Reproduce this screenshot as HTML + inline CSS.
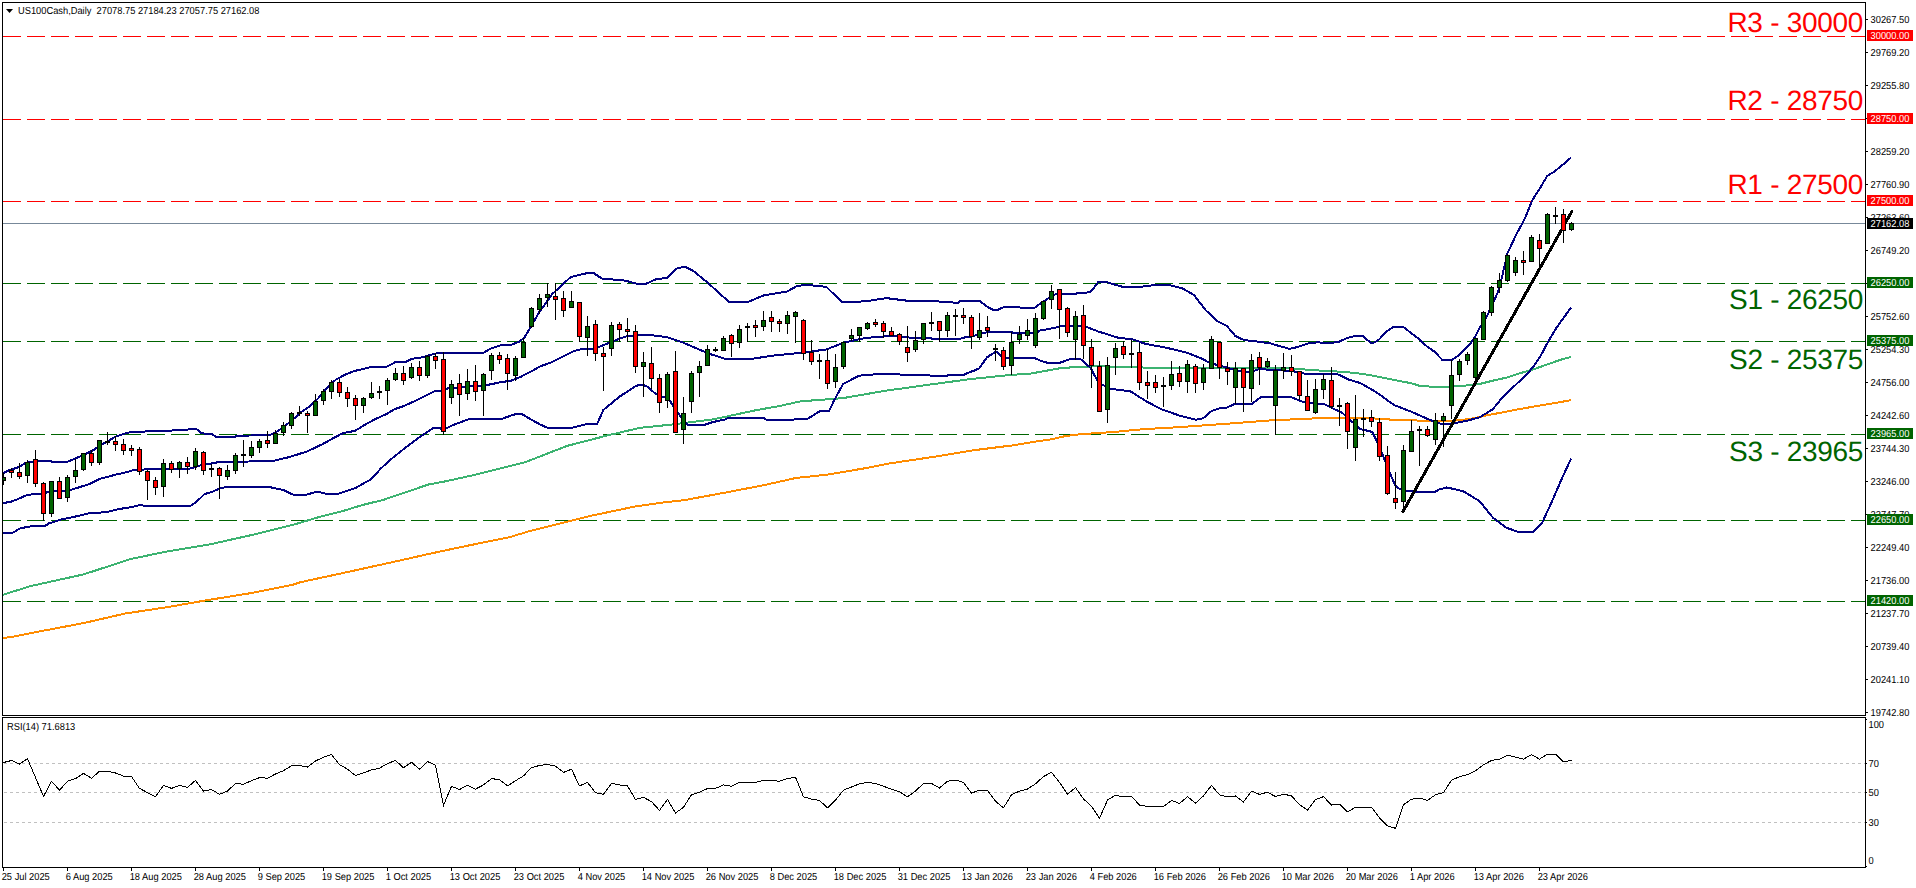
<!DOCTYPE html><html><head><meta charset="utf-8"><style>html,body{margin:0;padding:0;background:#fff;}svg{display:block}text{font-family:"Liberation Sans", sans-serif;text-rendering:geometricPrecision;}</style></head><body>
<svg width="1916" height="888" viewBox="0 0 1916 888">
<rect x="0" y="0" width="1916" height="888" fill="#fff"/>
<defs><clipPath id="cm"><rect x="3" y="3" width="1862" height="712"/></clipPath><clipPath id="cr"><rect x="3" y="718" width="1862" height="149"/></clipPath></defs>
<g clip-path="url(#cm)">
<line x1="3" y1="36.5" x2="1865" y2="36.5" stroke="#FF0000" stroke-width="1" stroke-dasharray="18 6" shape-rendering="crispEdges"/>
<line x1="3" y1="119.5" x2="1865" y2="119.5" stroke="#FF0000" stroke-width="1" stroke-dasharray="18 6" shape-rendering="crispEdges"/>
<line x1="3" y1="201.5" x2="1865" y2="201.5" stroke="#FF0000" stroke-width="1" stroke-dasharray="18 6" shape-rendering="crispEdges"/>
<line x1="3" y1="283.5" x2="1865" y2="283.5" stroke="#006400" stroke-width="1" stroke-dasharray="18 6" shape-rendering="crispEdges"/>
<line x1="3" y1="341.5" x2="1865" y2="341.5" stroke="#006400" stroke-width="1" stroke-dasharray="18 6" shape-rendering="crispEdges"/>
<line x1="3" y1="434.5" x2="1865" y2="434.5" stroke="#006400" stroke-width="1" stroke-dasharray="18 6" shape-rendering="crispEdges"/>
<line x1="3" y1="520.5" x2="1865" y2="520.5" stroke="#006400" stroke-width="1" stroke-dasharray="18 6" shape-rendering="crispEdges"/>
<line x1="3" y1="601.5" x2="1865" y2="601.5" stroke="#006400" stroke-width="1" stroke-dasharray="18 6" shape-rendering="crispEdges"/>
<line x1="3" y1="223.5" x2="1865" y2="223.5" stroke="#778899" stroke-width="1" shape-rendering="crispEdges"/>
<polyline points="3.1,637.7 10.4,637.3 41.8,631.0 83.5,623.1 125.3,613.5 167.0,607.2 208.8,599.9 250.5,593.2 292.3,584.9 300.0,582.3 341.8,573.3 383.5,564.1 400.0,560.5 425.3,554.7 467.0,545.8 508.8,537.4 529.6,531.1 550.5,525.9 571.4,520.7 592.3,515.5 634.0,506.7 660.0,502.9 685.0,500.0 722.6,493.1 764.4,485.1 795.7,478.0 827.0,474.7 868.8,467.6 889.6,463.4 931.4,457.2 973.2,450.3 1014.9,445.1 1035.8,441.5 1050.0,439.6 1065.7,436.0 1081.3,434.1 1112.6,432.1 1143.9,429.1 1175.3,427.4 1206.6,425.2 1237.9,422.9 1269.2,420.5 1300.5,419.0 1331.8,417.7 1345.0,417.6 1370.0,418.2 1394.0,419.8 1420.5,420.6 1440.0,420.9 1455.0,420.6 1470.0,419.0 1486.3,415.5 1519.2,409.1 1571.2,400.2" fill="none" stroke="#FF8C00" stroke-width="2" stroke-linejoin="round" shape-rendering="crispEdges" />
<polyline points="3.1,594.7 31.3,585.9 83.5,574.4 131.5,558.8 167.0,551.5 208.8,544.6 250.5,535.3 292.3,524.9 300.0,522.8 320.9,516.5 341.8,511.3 362.6,505.0 383.5,499.8 402.0,493.6 428.0,484.6 446.1,481.2 473.1,475.2 525.3,462.2 567.0,445.9 608.8,435.1 640.1,427.8 671.4,424.6 713.2,419.4 754.9,410.4 780.0,405.9 800.9,401.3 842.6,398.2 884.4,390.9 926.1,385.1 967.9,379.4 1009.6,375.0 1030.5,373.6 1061.8,367.9 1093.2,366.3 1125.0,366.8 1150.0,367.8 1155.8,367.9 1180.0,367.9 1220.0,368.0 1289.0,368.3 1328.0,371.2 1340.0,371.6 1355.8,373.0 1371.5,375.4 1391.2,379.3 1412.0,383.4 1420.5,386.1 1439.0,387.0 1453.4,386.3 1466.0,385.5 1480.0,383.9 1493.5,380.5 1507.0,377.5 1520.5,373.1 1534.1,369.1 1547.6,364.3 1561.1,359.6 1571.2,356.9" fill="none" stroke="#3CB371" stroke-width="2" stroke-linejoin="round" shape-rendering="crispEdges" />
<polyline points="3.0,473.2 9.0,470.2 16.2,468.0 20.7,466.2 25.2,463.0 29.7,461.7 50.5,461.0 52.3,462.1 66.7,462.1 71.2,460.3 78.4,457.2 85.6,454.0 93.7,450.0 100.0,445.3 107.2,441.7 115.3,436.7 123.4,434.0 131.5,431.8 163.0,431.1 191.0,429.3 197.3,429.5 201.8,433.4 211.7,433.8 216.2,436.9 235.0,436.9 237.0,435.6 251.5,435.5 269.0,435.3 276.4,432.0 283.7,427.0 292.5,420.0 300.0,413.0 309.0,406.7 318.0,398.6 327.0,387.7 336.0,379.6 345.0,374.7 354.0,371.1 363.0,369.0 372.0,366.8 386.5,366.8 395.5,362.1 406.3,361.6 411.7,358.9 421.9,357.4 434.0,354.0 436.8,353.2 482.6,353.2 490.7,348.7 500.8,345.2 510.9,345.0 519.0,341.7 524.1,338.1 539.1,312.4 552.2,294.1 570.5,277.2 588.7,272.7 594.0,273.3 601.8,278.5 625.3,280.6 638.3,284.2 646.1,283.7 656.6,279.0 667.0,278.0 677.5,268.0 685.3,267.0 693.1,270.7 708.8,283.7 729.6,302.5 747.9,302.0 763.6,295.4 787.0,291.5 797.5,285.8 807.9,285.0 826.2,286.8 841.9,302.0 865.3,301.4 886.2,298.1 907.1,300.7 931.0,301.0 947.0,302.0 958.3,303.0 960.8,300.5 979.3,300.5 986.8,306.5 993.0,309.7 998.0,309.7 1004.5,306.8 1019.1,306.8 1020.3,307.6 1034.9,307.6 1039.4,304.2 1047.3,299.1 1054.1,294.6 1062.0,293.5 1076.6,293.5 1077.7,292.6 1086.7,292.6 1091.2,291.3 1098.0,282.3 1106.0,282.0 1123.2,287.0 1138.5,287.0 1155.7,285.0 1171.0,285.5 1182.5,288.5 1194.0,295.0 1205.5,310.0 1216.8,320.8 1226.9,326.0 1235.3,336.0 1243.8,340.0 1257.3,341.5 1270.8,343.5 1277.6,345.5 1289.4,348.8 1297.8,347.0 1308.0,343.5 1318.1,342.3 1328.2,343.3 1338.4,342.0 1347.9,337.7 1356.5,335.6 1362.9,335.6 1367.6,340.3 1371.5,343.1 1374.7,342.3 1378.6,339.9 1387.3,330.9 1393.6,326.7 1403.0,326.7 1410.9,332.9 1418.8,338.8 1426.7,346.2 1434.6,351.8 1442.4,360.0 1451.9,360.0 1458.2,355.7 1462.9,351.0 1470.8,343.1 1475.5,336.0 1480.0,327.3 1487.3,315.4 1499.1,289.4 1507.4,253.5 1516.2,234.6 1524.3,219.7 1532.4,200.1 1540.5,187.3 1547.3,175.8 1554.0,171.8 1560.8,166.4 1571.0,157.6" fill="none" stroke="#000080" stroke-width="2" stroke-linejoin="round" shape-rendering="crispEdges" />
<polyline points="3.0,503.1 10.8,501.8 18.0,499.1 27.0,495.0 37.8,493.6 45.0,493.6 47.7,491.8 64.9,491.0 70.3,490.0 79.3,487.3 90.1,483.7 100.0,478.8 107.0,477.0 116.0,474.6 127.6,472.0 134.3,469.8 160.0,469.0 190.6,468.5 200.0,465.6 204.6,464.6 219.3,462.0 248.6,461.5 275.0,460.5 289.6,457.0 307.0,451.5 321.8,444.5 330.0,440.0 341.3,433.9 346.9,432.2 354.8,431.0 363.8,425.4 375.0,419.2 386.3,414.1 394.8,409.1 403.2,406.3 414.5,401.2 425.7,395.6 434.0,391.5 443.5,391.2 448.1,388.3 480.5,385.7 488.6,384.7 500.8,382.2 510.9,380.7 521.1,376.6 531.2,371.5 540.0,366.5 552.2,362.0 573.0,351.6 579.0,349.6 592.5,348.7 599.7,346.7 608.7,343.0 616.8,339.7 625.9,336.5 633.0,335.6 650.0,335.0 667.0,337.2 682.7,342.4 708.8,353.6 727.0,359.4 747.9,359.4 774.0,355.5 800.1,352.9 826.2,349.5 844.5,342.4 865.3,338.0 891.4,335.9 910.0,337.6 931.0,338.0 932.3,339.0 959.5,339.0 964.5,337.5 972.0,336.5 984.3,332.8 989.3,331.8 1011.5,331.8 1012.8,333.0 1036.3,333.0 1040.0,330.5 1048.7,329.0 1057.4,327.2 1060.0,326.3 1084.9,326.3 1098.3,331.5 1117.4,337.5 1132.7,339.5 1146.1,344.0 1165.3,347.5 1186.3,352.5 1201.6,358.5 1210.0,363.1 1226.9,367.5 1240.4,371.5 1250.5,372.0 1259.0,369.2 1277.6,370.0 1294.5,371.5 1304.6,373.7 1338.4,374.5 1348.5,379.6 1358.6,382.5 1361.6,383.8 1376.0,392.0 1394.0,405.0 1412.0,412.0 1430.0,420.0 1441.0,423.8 1451.7,423.8 1466.0,421.0 1479.7,417.3 1492.9,409.1 1500.3,400.0 1513.8,386.6 1527.3,373.8 1534.1,365.7 1540.8,355.5 1547.6,342.7 1556.0,328.4 1571.0,307.6" fill="none" stroke="#000080" stroke-width="2" stroke-linejoin="round" shape-rendering="crispEdges" />
<polyline points="3.0,533.2 12.4,533.0 19.7,528.5 27.0,527.0 36.0,525.5 45.0,526.0 49.5,523.0 54.0,522.0 59.5,519.8 68.5,518.0 81.1,515.3 90.1,513.0 100.0,512.6 108.0,511.8 119.4,509.0 131.8,507.0 139.6,505.0 146.4,506.0 163.3,506.0 191.4,505.5 194.8,503.0 200.0,498.5 204.6,494.0 212.0,492.0 220.7,488.0 228.0,487.0 270.5,487.3 283.7,490.0 292.5,494.5 307.0,494.5 314.5,492.3 318.8,492.0 324.7,493.5 339.3,493.5 355.4,488.0 371.5,479.0 380.3,469.0 390.0,460.0 403.0,449.6 420.5,436.5 434.0,427.6 439.5,428.4 444.9,429.0 453.0,425.1 467.8,419.5 475.9,419.0 501.6,419.0 512.4,415.0 519.0,413.5 521.9,414.0 528.6,418.0 540.0,424.5 547.2,427.6 572.3,427.6 587.9,423.8 597.3,423.8 603.3,410.0 619.5,396.7 635.8,385.9 642.0,384.5 647.3,386.5 654.6,393.0 662.0,396.6 667.8,397.0 673.7,407.0 681.0,417.0 688.3,425.3 703.0,425.3 713.2,422.0 725.0,419.5 729.3,417.5 763.0,417.5 765.9,419.5 779.0,420.0 807.1,419.1 819.7,411.3 829.0,411.3 834.3,400.0 843.0,384.1 859.0,375.7 876.4,374.2 898.7,374.2 903.7,375.4 920.0,375.4 947.0,375.7 948.4,375.0 963.3,375.0 968.2,372.7 974.4,370.5 979.3,368.3 986.8,357.5 994.2,352.6 996.7,351.6 1001.6,356.5 1006.6,357.8 1033.8,357.8 1040.0,360.5 1048.7,363.2 1058.6,363.2 1071.5,358.6 1081.0,359.5 1090.6,368.0 1098.3,382.5 1110.1,388.8 1130.4,391.3 1145.6,400.9 1160.8,409.0 1181.0,416.1 1196.2,419.7 1203.3,418.2 1211.4,411.1 1220.0,408.2 1226.9,407.5 1235.3,403.7 1252.2,403.7 1260.7,397.2 1291.1,397.2 1304.6,402.5 1324.9,404.4 1333.3,408.7 1341.8,412.5 1350.2,420.0 1360.3,429.0 1372.4,432.0 1379.6,447.0 1389.6,472.3 1395.2,485.2 1399.1,488.6 1401.4,489.4 1405.0,490.9 1411.5,490.9 1414.0,492.0 1435.0,492.0 1438.5,489.7 1446.8,487.4 1463.3,491.3 1479.7,501.2 1492.9,517.6 1506.0,527.5 1519.2,532.4 1532.4,532.4 1542.2,522.6 1552.1,501.2 1562.0,478.2 1571.2,458.4" fill="none" stroke="#000080" stroke-width="2" stroke-linejoin="round" shape-rendering="crispEdges" />
<line x1="1403" y1="511.5" x2="1571.8" y2="211.5" stroke="#000" stroke-width="3" stroke-linecap="round" shape-rendering="crispEdges"/>
<rect x="3" y="473" width="1" height="12" fill="#000"/>
<rect x="1" y="477" width="5" height="4" fill="#000"/>
<rect x="2" y="478" width="3" height="2" fill="#006400"/>
<rect x="11" y="468" width="1" height="10" fill="#000"/>
<rect x="9" y="470" width="5" height="3" fill="#000"/>
<rect x="10" y="471" width="3" height="1" fill="#FF0000"/>
<rect x="19" y="463" width="1" height="16" fill="#000"/>
<rect x="17" y="472" width="5" height="5" fill="#000"/>
<rect x="18" y="473" width="3" height="3" fill="#FF0000"/>
<rect x="27" y="460" width="1" height="23" fill="#000"/>
<rect x="25" y="462" width="5" height="14" fill="#000"/>
<rect x="26" y="463" width="3" height="12" fill="#006400"/>
<rect x="35" y="450" width="1" height="37" fill="#000"/>
<rect x="33" y="459" width="5" height="25" fill="#000"/>
<rect x="34" y="460" width="3" height="23" fill="#FF0000"/>
<rect x="43" y="482" width="1" height="39" fill="#000"/>
<rect x="41" y="483" width="5" height="31" fill="#000"/>
<rect x="42" y="484" width="3" height="29" fill="#FF0000"/>
<rect x="51" y="481" width="1" height="36" fill="#000"/>
<rect x="49" y="481" width="5" height="33" fill="#000"/>
<rect x="50" y="482" width="3" height="31" fill="#006400"/>
<rect x="59" y="477" width="1" height="22" fill="#000"/>
<rect x="57" y="481" width="5" height="18" fill="#000"/>
<rect x="58" y="482" width="3" height="16" fill="#FF0000"/>
<rect x="67" y="475" width="1" height="27" fill="#000"/>
<rect x="65" y="477" width="5" height="21" fill="#000"/>
<rect x="66" y="478" width="3" height="19" fill="#006400"/>
<rect x="75" y="459" width="1" height="24" fill="#000"/>
<rect x="73" y="470" width="5" height="7" fill="#000"/>
<rect x="74" y="471" width="3" height="5" fill="#006400"/>
<rect x="83" y="453" width="1" height="18" fill="#000"/>
<rect x="81" y="453" width="5" height="17" fill="#000"/>
<rect x="82" y="454" width="3" height="15" fill="#006400"/>
<rect x="91" y="450" width="1" height="16" fill="#000"/>
<rect x="89" y="453" width="5" height="10" fill="#000"/>
<rect x="90" y="454" width="3" height="8" fill="#FF0000"/>
<rect x="99" y="440" width="1" height="25" fill="#000"/>
<rect x="97" y="440" width="5" height="23" fill="#000"/>
<rect x="98" y="441" width="3" height="21" fill="#006400"/>
<rect x="107" y="432" width="1" height="13" fill="#000"/>
<rect x="105" y="441" width="5" height="2" fill="#000"/>
<rect x="115" y="436" width="1" height="15" fill="#000"/>
<rect x="113" y="441" width="5" height="4" fill="#000"/>
<rect x="114" y="442" width="3" height="2" fill="#FF0000"/>
<rect x="123" y="439" width="1" height="16" fill="#000"/>
<rect x="121" y="444" width="5" height="7" fill="#000"/>
<rect x="122" y="445" width="3" height="5" fill="#FF0000"/>
<rect x="131" y="445" width="1" height="11" fill="#000"/>
<rect x="129" y="448" width="5" height="3" fill="#000"/>
<rect x="130" y="449" width="3" height="1" fill="#FF0000"/>
<rect x="139" y="447" width="1" height="28" fill="#000"/>
<rect x="137" y="449" width="5" height="23" fill="#000"/>
<rect x="138" y="450" width="3" height="21" fill="#FF0000"/>
<rect x="147" y="470" width="1" height="30" fill="#000"/>
<rect x="145" y="471" width="5" height="10" fill="#000"/>
<rect x="146" y="472" width="3" height="8" fill="#FF0000"/>
<rect x="155" y="477" width="1" height="18" fill="#000"/>
<rect x="153" y="480" width="5" height="8" fill="#000"/>
<rect x="154" y="481" width="3" height="6" fill="#FF0000"/>
<rect x="163" y="459" width="1" height="38" fill="#000"/>
<rect x="161" y="463" width="5" height="24" fill="#000"/>
<rect x="162" y="464" width="3" height="22" fill="#006400"/>
<rect x="171" y="461" width="1" height="12" fill="#000"/>
<rect x="169" y="463" width="5" height="7" fill="#000"/>
<rect x="170" y="464" width="3" height="5" fill="#FF0000"/>
<rect x="179" y="461" width="1" height="17" fill="#000"/>
<rect x="177" y="462" width="5" height="7" fill="#000"/>
<rect x="178" y="463" width="3" height="5" fill="#006400"/>
<rect x="187" y="457" width="1" height="17" fill="#000"/>
<rect x="185" y="462" width="5" height="5" fill="#000"/>
<rect x="186" y="463" width="3" height="3" fill="#FF0000"/>
<rect x="195" y="448" width="1" height="22" fill="#000"/>
<rect x="193" y="451" width="5" height="16" fill="#000"/>
<rect x="194" y="452" width="3" height="14" fill="#006400"/>
<rect x="203" y="451" width="1" height="24" fill="#000"/>
<rect x="201" y="452" width="5" height="19" fill="#000"/>
<rect x="202" y="453" width="3" height="17" fill="#FF0000"/>
<rect x="211" y="464" width="1" height="13" fill="#000"/>
<rect x="209" y="468" width="5" height="2" fill="#000"/>
<rect x="219" y="467" width="1" height="32" fill="#000"/>
<rect x="217" y="468" width="5" height="8" fill="#000"/>
<rect x="218" y="469" width="3" height="6" fill="#FF0000"/>
<rect x="227" y="465" width="1" height="15" fill="#000"/>
<rect x="225" y="470" width="5" height="7" fill="#000"/>
<rect x="226" y="471" width="3" height="5" fill="#006400"/>
<rect x="235" y="453" width="1" height="21" fill="#000"/>
<rect x="233" y="455" width="5" height="16" fill="#000"/>
<rect x="234" y="456" width="3" height="14" fill="#006400"/>
<rect x="243" y="440" width="1" height="27" fill="#000"/>
<rect x="241" y="454" width="5" height="2" fill="#000"/>
<rect x="251" y="441" width="1" height="17" fill="#000"/>
<rect x="249" y="447" width="5" height="9" fill="#000"/>
<rect x="250" y="448" width="3" height="7" fill="#006400"/>
<rect x="259" y="439" width="1" height="14" fill="#000"/>
<rect x="257" y="441" width="5" height="7" fill="#000"/>
<rect x="258" y="442" width="3" height="5" fill="#006400"/>
<rect x="267" y="431" width="1" height="17" fill="#000"/>
<rect x="265" y="440" width="5" height="4" fill="#000"/>
<rect x="266" y="441" width="3" height="2" fill="#FF0000"/>
<rect x="275" y="430" width="1" height="14" fill="#000"/>
<rect x="273" y="433" width="5" height="11" fill="#000"/>
<rect x="274" y="434" width="3" height="9" fill="#006400"/>
<rect x="283" y="422" width="1" height="14" fill="#000"/>
<rect x="281" y="425" width="5" height="8" fill="#000"/>
<rect x="282" y="426" width="3" height="6" fill="#006400"/>
<rect x="291" y="412" width="1" height="17" fill="#000"/>
<rect x="289" y="413" width="5" height="13" fill="#000"/>
<rect x="290" y="414" width="3" height="11" fill="#006400"/>
<rect x="299" y="406" width="1" height="10" fill="#000"/>
<rect x="297" y="412" width="5" height="2" fill="#000"/>
<rect x="307" y="411" width="1" height="22" fill="#000"/>
<rect x="305" y="413" width="5" height="3" fill="#000"/>
<rect x="306" y="414" width="3" height="1" fill="#FF0000"/>
<rect x="315" y="394" width="1" height="22" fill="#000"/>
<rect x="313" y="401" width="5" height="15" fill="#000"/>
<rect x="314" y="402" width="3" height="13" fill="#006400"/>
<rect x="323" y="389" width="1" height="16" fill="#000"/>
<rect x="321" y="391" width="5" height="10" fill="#000"/>
<rect x="322" y="392" width="3" height="8" fill="#006400"/>
<rect x="331" y="380" width="1" height="19" fill="#000"/>
<rect x="329" y="382" width="5" height="10" fill="#000"/>
<rect x="330" y="383" width="3" height="8" fill="#006400"/>
<rect x="339" y="379" width="1" height="18" fill="#000"/>
<rect x="337" y="382" width="5" height="11" fill="#000"/>
<rect x="338" y="383" width="3" height="9" fill="#FF0000"/>
<rect x="347" y="387" width="1" height="20" fill="#000"/>
<rect x="345" y="392" width="5" height="7" fill="#000"/>
<rect x="346" y="393" width="3" height="5" fill="#FF0000"/>
<rect x="355" y="395" width="1" height="25" fill="#000"/>
<rect x="353" y="398" width="5" height="8" fill="#000"/>
<rect x="354" y="399" width="3" height="6" fill="#FF0000"/>
<rect x="363" y="397" width="1" height="16" fill="#000"/>
<rect x="361" y="398" width="5" height="8" fill="#000"/>
<rect x="362" y="399" width="3" height="6" fill="#006400"/>
<rect x="371" y="382" width="1" height="17" fill="#000"/>
<rect x="369" y="393" width="5" height="5" fill="#000"/>
<rect x="370" y="394" width="3" height="3" fill="#006400"/>
<rect x="379" y="386" width="1" height="13" fill="#000"/>
<rect x="377" y="391" width="5" height="2" fill="#000"/>
<rect x="387" y="378" width="1" height="27" fill="#000"/>
<rect x="385" y="380" width="5" height="11" fill="#000"/>
<rect x="386" y="381" width="3" height="9" fill="#006400"/>
<rect x="395" y="368" width="1" height="13" fill="#000"/>
<rect x="393" y="373" width="5" height="7" fill="#000"/>
<rect x="394" y="374" width="3" height="5" fill="#006400"/>
<rect x="403" y="366" width="1" height="19" fill="#000"/>
<rect x="401" y="373" width="5" height="8" fill="#000"/>
<rect x="402" y="374" width="3" height="6" fill="#FF0000"/>
<rect x="411" y="363" width="1" height="16" fill="#000"/>
<rect x="409" y="367" width="5" height="11" fill="#000"/>
<rect x="410" y="368" width="3" height="9" fill="#006400"/>
<rect x="419" y="361" width="1" height="20" fill="#000"/>
<rect x="417" y="367" width="5" height="9" fill="#000"/>
<rect x="418" y="368" width="3" height="7" fill="#FF0000"/>
<rect x="427" y="355" width="1" height="23" fill="#000"/>
<rect x="425" y="356" width="5" height="20" fill="#000"/>
<rect x="426" y="357" width="3" height="18" fill="#006400"/>
<rect x="435" y="353" width="1" height="16" fill="#000"/>
<rect x="433" y="356" width="5" height="5" fill="#000"/>
<rect x="434" y="357" width="3" height="3" fill="#FF0000"/>
<rect x="443" y="352" width="1" height="83" fill="#000"/>
<rect x="441" y="359" width="5" height="73" fill="#000"/>
<rect x="442" y="360" width="3" height="71" fill="#FF0000"/>
<rect x="451" y="380" width="1" height="24" fill="#000"/>
<rect x="449" y="384" width="5" height="14" fill="#000"/>
<rect x="450" y="385" width="3" height="12" fill="#006400"/>
<rect x="459" y="374" width="1" height="42" fill="#000"/>
<rect x="457" y="383" width="5" height="12" fill="#000"/>
<rect x="458" y="384" width="3" height="10" fill="#FF0000"/>
<rect x="467" y="369" width="1" height="31" fill="#000"/>
<rect x="465" y="381" width="5" height="13" fill="#000"/>
<rect x="466" y="382" width="3" height="11" fill="#006400"/>
<rect x="475" y="365" width="1" height="36" fill="#000"/>
<rect x="473" y="381" width="5" height="11" fill="#000"/>
<rect x="474" y="382" width="3" height="9" fill="#FF0000"/>
<rect x="483" y="373" width="1" height="43" fill="#000"/>
<rect x="481" y="374" width="5" height="17" fill="#000"/>
<rect x="482" y="375" width="3" height="15" fill="#006400"/>
<rect x="491" y="353" width="1" height="27" fill="#000"/>
<rect x="489" y="355" width="5" height="16" fill="#000"/>
<rect x="490" y="356" width="3" height="14" fill="#006400"/>
<rect x="499" y="352" width="1" height="12" fill="#000"/>
<rect x="497" y="355" width="5" height="5" fill="#000"/>
<rect x="498" y="356" width="3" height="3" fill="#FF0000"/>
<rect x="507" y="354" width="1" height="36" fill="#000"/>
<rect x="505" y="358" width="5" height="16" fill="#000"/>
<rect x="506" y="359" width="3" height="14" fill="#FF0000"/>
<rect x="515" y="356" width="1" height="25" fill="#000"/>
<rect x="513" y="358" width="5" height="18" fill="#000"/>
<rect x="514" y="359" width="3" height="16" fill="#006400"/>
<rect x="523" y="338" width="1" height="20" fill="#000"/>
<rect x="521" y="342" width="5" height="16" fill="#000"/>
<rect x="522" y="343" width="3" height="14" fill="#006400"/>
<rect x="531" y="307" width="1" height="21" fill="#000"/>
<rect x="529" y="308" width="5" height="19" fill="#000"/>
<rect x="530" y="309" width="3" height="17" fill="#006400"/>
<rect x="539" y="294" width="1" height="20" fill="#000"/>
<rect x="537" y="298" width="5" height="12" fill="#000"/>
<rect x="538" y="299" width="3" height="10" fill="#006400"/>
<rect x="547" y="283" width="1" height="24" fill="#000"/>
<rect x="545" y="294" width="5" height="4" fill="#000"/>
<rect x="546" y="295" width="3" height="2" fill="#006400"/>
<rect x="555" y="283" width="1" height="37" fill="#000"/>
<rect x="553" y="296" width="5" height="4" fill="#000"/>
<rect x="554" y="297" width="3" height="2" fill="#FF0000"/>
<rect x="563" y="291" width="1" height="26" fill="#000"/>
<rect x="561" y="298" width="5" height="13" fill="#000"/>
<rect x="562" y="299" width="3" height="11" fill="#FF0000"/>
<rect x="571" y="291" width="1" height="17" fill="#000"/>
<rect x="569" y="301" width="5" height="7" fill="#000"/>
<rect x="570" y="302" width="3" height="5" fill="#006400"/>
<rect x="579" y="302" width="1" height="40" fill="#000"/>
<rect x="577" y="302" width="5" height="35" fill="#000"/>
<rect x="578" y="303" width="3" height="33" fill="#FF0000"/>
<rect x="587" y="316" width="1" height="40" fill="#000"/>
<rect x="585" y="326" width="5" height="12" fill="#000"/>
<rect x="586" y="327" width="3" height="10" fill="#006400"/>
<rect x="595" y="320" width="1" height="41" fill="#000"/>
<rect x="593" y="324" width="5" height="30" fill="#000"/>
<rect x="594" y="325" width="3" height="28" fill="#FF0000"/>
<rect x="603" y="347" width="1" height="44" fill="#000"/>
<rect x="601" y="353" width="5" height="4" fill="#000"/>
<rect x="602" y="354" width="3" height="2" fill="#FF0000"/>
<rect x="611" y="322" width="1" height="34" fill="#000"/>
<rect x="609" y="325" width="5" height="24" fill="#000"/>
<rect x="610" y="326" width="3" height="22" fill="#006400"/>
<rect x="619" y="322" width="1" height="20" fill="#000"/>
<rect x="617" y="324" width="5" height="6" fill="#000"/>
<rect x="618" y="325" width="3" height="4" fill="#FF0000"/>
<rect x="627" y="318" width="1" height="24" fill="#000"/>
<rect x="625" y="329" width="5" height="3" fill="#000"/>
<rect x="626" y="330" width="3" height="1" fill="#FF0000"/>
<rect x="635" y="325" width="1" height="48" fill="#000"/>
<rect x="633" y="331" width="5" height="36" fill="#000"/>
<rect x="634" y="332" width="3" height="34" fill="#FF0000"/>
<rect x="643" y="352" width="1" height="45" fill="#000"/>
<rect x="641" y="362" width="5" height="5" fill="#000"/>
<rect x="642" y="363" width="3" height="3" fill="#006400"/>
<rect x="651" y="347" width="1" height="42" fill="#000"/>
<rect x="649" y="363" width="5" height="16" fill="#000"/>
<rect x="650" y="364" width="3" height="14" fill="#FF0000"/>
<rect x="659" y="374" width="1" height="39" fill="#000"/>
<rect x="657" y="378" width="5" height="25" fill="#000"/>
<rect x="658" y="379" width="3" height="23" fill="#FF0000"/>
<rect x="667" y="372" width="1" height="36" fill="#000"/>
<rect x="665" y="374" width="5" height="27" fill="#000"/>
<rect x="666" y="375" width="3" height="25" fill="#006400"/>
<rect x="675" y="351" width="1" height="82" fill="#000"/>
<rect x="673" y="371" width="5" height="62" fill="#000"/>
<rect x="674" y="372" width="3" height="60" fill="#FF0000"/>
<rect x="683" y="397" width="1" height="47" fill="#000"/>
<rect x="681" y="413" width="5" height="17" fill="#000"/>
<rect x="682" y="414" width="3" height="15" fill="#006400"/>
<rect x="691" y="371" width="1" height="42" fill="#000"/>
<rect x="689" y="373" width="5" height="29" fill="#000"/>
<rect x="690" y="374" width="3" height="27" fill="#006400"/>
<rect x="699" y="361" width="1" height="36" fill="#000"/>
<rect x="697" y="366" width="5" height="7" fill="#000"/>
<rect x="698" y="367" width="3" height="5" fill="#006400"/>
<rect x="707" y="345" width="1" height="21" fill="#000"/>
<rect x="705" y="349" width="5" height="17" fill="#000"/>
<rect x="706" y="350" width="3" height="15" fill="#006400"/>
<rect x="715" y="347" width="1" height="5" fill="#000"/>
<rect x="713" y="349" width="5" height="2" fill="#000"/>
<rect x="723" y="336" width="1" height="15" fill="#000"/>
<rect x="721" y="338" width="5" height="13" fill="#000"/>
<rect x="722" y="339" width="3" height="11" fill="#006400"/>
<rect x="731" y="334" width="1" height="23" fill="#000"/>
<rect x="729" y="335" width="5" height="9" fill="#000"/>
<rect x="730" y="336" width="3" height="7" fill="#FF0000"/>
<rect x="739" y="325" width="1" height="23" fill="#000"/>
<rect x="737" y="329" width="5" height="14" fill="#000"/>
<rect x="738" y="330" width="3" height="12" fill="#006400"/>
<rect x="747" y="323" width="1" height="19" fill="#000"/>
<rect x="745" y="326" width="5" height="2" fill="#000"/>
<rect x="755" y="320" width="1" height="17" fill="#000"/>
<rect x="753" y="325" width="5" height="3" fill="#000"/>
<rect x="754" y="326" width="3" height="1" fill="#FF0000"/>
<rect x="763" y="311" width="1" height="20" fill="#000"/>
<rect x="761" y="320" width="5" height="7" fill="#000"/>
<rect x="762" y="321" width="3" height="5" fill="#006400"/>
<rect x="771" y="311" width="1" height="21" fill="#000"/>
<rect x="769" y="317" width="5" height="5" fill="#000"/>
<rect x="770" y="318" width="3" height="3" fill="#FF0000"/>
<rect x="779" y="319" width="1" height="13" fill="#000"/>
<rect x="777" y="321" width="5" height="3" fill="#000"/>
<rect x="778" y="322" width="3" height="1" fill="#FF0000"/>
<rect x="787" y="311" width="1" height="23" fill="#000"/>
<rect x="785" y="315" width="5" height="9" fill="#000"/>
<rect x="786" y="316" width="3" height="7" fill="#006400"/>
<rect x="795" y="311" width="1" height="32" fill="#000"/>
<rect x="793" y="312" width="5" height="5" fill="#000"/>
<rect x="794" y="313" width="3" height="3" fill="#006400"/>
<rect x="803" y="319" width="1" height="41" fill="#000"/>
<rect x="801" y="320" width="5" height="34" fill="#000"/>
<rect x="802" y="321" width="3" height="32" fill="#FF0000"/>
<rect x="811" y="340" width="1" height="25" fill="#000"/>
<rect x="809" y="352" width="5" height="10" fill="#000"/>
<rect x="810" y="353" width="3" height="8" fill="#FF0000"/>
<rect x="819" y="354" width="1" height="25" fill="#000"/>
<rect x="817" y="360" width="5" height="2" fill="#000"/>
<rect x="827" y="349" width="1" height="40" fill="#000"/>
<rect x="825" y="360" width="5" height="24" fill="#000"/>
<rect x="826" y="361" width="3" height="22" fill="#FF0000"/>
<rect x="835" y="354" width="1" height="34" fill="#000"/>
<rect x="833" y="367" width="5" height="15" fill="#000"/>
<rect x="834" y="368" width="3" height="13" fill="#006400"/>
<rect x="843" y="342" width="1" height="27" fill="#000"/>
<rect x="841" y="342" width="5" height="25" fill="#000"/>
<rect x="842" y="343" width="3" height="23" fill="#006400"/>
<rect x="851" y="329" width="1" height="12" fill="#000"/>
<rect x="849" y="335" width="5" height="4" fill="#000"/>
<rect x="850" y="336" width="3" height="2" fill="#006400"/>
<rect x="859" y="327" width="1" height="15" fill="#000"/>
<rect x="857" y="327" width="5" height="9" fill="#000"/>
<rect x="858" y="328" width="3" height="7" fill="#006400"/>
<rect x="867" y="322" width="1" height="8" fill="#000"/>
<rect x="865" y="323" width="5" height="6" fill="#000"/>
<rect x="866" y="324" width="3" height="4" fill="#006400"/>
<rect x="875" y="319" width="1" height="8" fill="#000"/>
<rect x="873" y="322" width="5" height="3" fill="#000"/>
<rect x="874" y="323" width="3" height="1" fill="#FF0000"/>
<rect x="883" y="321" width="1" height="17" fill="#000"/>
<rect x="881" y="323" width="5" height="9" fill="#000"/>
<rect x="882" y="324" width="3" height="7" fill="#FF0000"/>
<rect x="891" y="327" width="1" height="9" fill="#000"/>
<rect x="889" y="331" width="5" height="5" fill="#000"/>
<rect x="890" y="332" width="3" height="3" fill="#FF0000"/>
<rect x="899" y="333" width="1" height="12" fill="#000"/>
<rect x="897" y="334" width="5" height="8" fill="#000"/>
<rect x="898" y="335" width="3" height="6" fill="#FF0000"/>
<rect x="907" y="326" width="1" height="36" fill="#000"/>
<rect x="905" y="347" width="5" height="6" fill="#000"/>
<rect x="906" y="348" width="3" height="4" fill="#FF0000"/>
<rect x="915" y="331" width="1" height="21" fill="#000"/>
<rect x="913" y="340" width="5" height="10" fill="#000"/>
<rect x="914" y="341" width="3" height="8" fill="#006400"/>
<rect x="923" y="323" width="1" height="21" fill="#000"/>
<rect x="921" y="323" width="5" height="17" fill="#000"/>
<rect x="922" y="324" width="3" height="15" fill="#006400"/>
<rect x="931" y="312" width="1" height="19" fill="#000"/>
<rect x="929" y="322" width="5" height="2" fill="#000"/>
<rect x="939" y="321" width="1" height="21" fill="#000"/>
<rect x="937" y="321" width="5" height="10" fill="#000"/>
<rect x="938" y="322" width="3" height="8" fill="#FF0000"/>
<rect x="947" y="312" width="1" height="25" fill="#000"/>
<rect x="945" y="315" width="5" height="16" fill="#000"/>
<rect x="946" y="316" width="3" height="14" fill="#006400"/>
<rect x="955" y="309" width="1" height="27" fill="#000"/>
<rect x="953" y="315" width="5" height="2" fill="#000"/>
<rect x="963" y="308" width="1" height="16" fill="#000"/>
<rect x="961" y="315" width="5" height="3" fill="#000"/>
<rect x="962" y="316" width="3" height="1" fill="#FF0000"/>
<rect x="971" y="315" width="1" height="34" fill="#000"/>
<rect x="969" y="317" width="5" height="20" fill="#000"/>
<rect x="970" y="318" width="3" height="18" fill="#FF0000"/>
<rect x="979" y="313" width="1" height="27" fill="#000"/>
<rect x="977" y="330" width="5" height="8" fill="#000"/>
<rect x="978" y="331" width="3" height="6" fill="#006400"/>
<rect x="987" y="316" width="1" height="21" fill="#000"/>
<rect x="985" y="327" width="5" height="4" fill="#000"/>
<rect x="986" y="328" width="3" height="2" fill="#FF0000"/>
<rect x="995" y="344" width="1" height="17" fill="#000"/>
<rect x="993" y="348" width="5" height="2" fill="#000"/>
<rect x="1003" y="347" width="1" height="23" fill="#000"/>
<rect x="1001" y="350" width="5" height="17" fill="#000"/>
<rect x="1002" y="351" width="3" height="15" fill="#FF0000"/>
<rect x="1011" y="332" width="1" height="43" fill="#000"/>
<rect x="1009" y="342" width="5" height="24" fill="#000"/>
<rect x="1010" y="343" width="3" height="22" fill="#006400"/>
<rect x="1019" y="326" width="1" height="18" fill="#000"/>
<rect x="1017" y="334" width="5" height="6" fill="#000"/>
<rect x="1018" y="335" width="3" height="4" fill="#006400"/>
<rect x="1027" y="319" width="1" height="21" fill="#000"/>
<rect x="1025" y="330" width="5" height="6" fill="#000"/>
<rect x="1026" y="331" width="3" height="4" fill="#006400"/>
<rect x="1035" y="313" width="1" height="35" fill="#000"/>
<rect x="1033" y="318" width="5" height="28" fill="#000"/>
<rect x="1034" y="319" width="3" height="26" fill="#006400"/>
<rect x="1043" y="301" width="1" height="19" fill="#000"/>
<rect x="1041" y="301" width="5" height="18" fill="#000"/>
<rect x="1042" y="302" width="3" height="16" fill="#006400"/>
<rect x="1051" y="285" width="1" height="24" fill="#000"/>
<rect x="1049" y="291" width="5" height="9" fill="#000"/>
<rect x="1050" y="292" width="3" height="7" fill="#006400"/>
<rect x="1059" y="289" width="1" height="50" fill="#000"/>
<rect x="1057" y="289" width="5" height="21" fill="#000"/>
<rect x="1058" y="290" width="3" height="19" fill="#FF0000"/>
<rect x="1067" y="307" width="1" height="30" fill="#000"/>
<rect x="1065" y="308" width="5" height="25" fill="#000"/>
<rect x="1066" y="309" width="3" height="23" fill="#FF0000"/>
<rect x="1075" y="311" width="1" height="49" fill="#000"/>
<rect x="1073" y="316" width="5" height="24" fill="#000"/>
<rect x="1074" y="317" width="3" height="22" fill="#006400"/>
<rect x="1083" y="305" width="1" height="54" fill="#000"/>
<rect x="1081" y="315" width="5" height="31" fill="#000"/>
<rect x="1082" y="316" width="3" height="29" fill="#FF0000"/>
<rect x="1091" y="339" width="1" height="49" fill="#000"/>
<rect x="1089" y="347" width="5" height="19" fill="#000"/>
<rect x="1090" y="348" width="3" height="17" fill="#FF0000"/>
<rect x="1099" y="361" width="1" height="51" fill="#000"/>
<rect x="1097" y="366" width="5" height="46" fill="#000"/>
<rect x="1098" y="367" width="3" height="44" fill="#FF0000"/>
<rect x="1107" y="357" width="1" height="66" fill="#000"/>
<rect x="1105" y="365" width="5" height="45" fill="#000"/>
<rect x="1106" y="366" width="3" height="43" fill="#006400"/>
<rect x="1115" y="343" width="1" height="32" fill="#000"/>
<rect x="1113" y="348" width="5" height="10" fill="#000"/>
<rect x="1114" y="349" width="3" height="8" fill="#006400"/>
<rect x="1123" y="341" width="1" height="18" fill="#000"/>
<rect x="1121" y="346" width="5" height="9" fill="#000"/>
<rect x="1122" y="347" width="3" height="7" fill="#FF0000"/>
<rect x="1131" y="340" width="1" height="28" fill="#000"/>
<rect x="1129" y="353" width="5" height="2" fill="#000"/>
<rect x="1139" y="343" width="1" height="47" fill="#000"/>
<rect x="1137" y="352" width="5" height="31" fill="#000"/>
<rect x="1138" y="353" width="3" height="29" fill="#FF0000"/>
<rect x="1147" y="371" width="1" height="28" fill="#000"/>
<rect x="1145" y="382" width="5" height="4" fill="#000"/>
<rect x="1146" y="383" width="3" height="2" fill="#FF0000"/>
<rect x="1155" y="375" width="1" height="18" fill="#000"/>
<rect x="1153" y="382" width="5" height="6" fill="#000"/>
<rect x="1154" y="383" width="3" height="4" fill="#FF0000"/>
<rect x="1163" y="377" width="1" height="30" fill="#000"/>
<rect x="1161" y="385" width="5" height="2" fill="#000"/>
<rect x="1171" y="361" width="1" height="29" fill="#000"/>
<rect x="1169" y="374" width="5" height="12" fill="#000"/>
<rect x="1170" y="375" width="3" height="10" fill="#006400"/>
<rect x="1179" y="366" width="1" height="21" fill="#000"/>
<rect x="1177" y="373" width="5" height="9" fill="#000"/>
<rect x="1178" y="374" width="3" height="7" fill="#FF0000"/>
<rect x="1187" y="360" width="1" height="33" fill="#000"/>
<rect x="1185" y="364" width="5" height="18" fill="#000"/>
<rect x="1186" y="365" width="3" height="16" fill="#006400"/>
<rect x="1195" y="364" width="1" height="29" fill="#000"/>
<rect x="1193" y="366" width="5" height="18" fill="#000"/>
<rect x="1194" y="367" width="3" height="16" fill="#FF0000"/>
<rect x="1203" y="364" width="1" height="26" fill="#000"/>
<rect x="1201" y="368" width="5" height="15" fill="#000"/>
<rect x="1202" y="369" width="3" height="13" fill="#006400"/>
<rect x="1211" y="336" width="1" height="33" fill="#000"/>
<rect x="1209" y="339" width="5" height="30" fill="#000"/>
<rect x="1210" y="340" width="3" height="28" fill="#006400"/>
<rect x="1219" y="342" width="1" height="37" fill="#000"/>
<rect x="1217" y="342" width="5" height="26" fill="#000"/>
<rect x="1218" y="343" width="3" height="24" fill="#FF0000"/>
<rect x="1227" y="362" width="1" height="23" fill="#000"/>
<rect x="1225" y="368" width="5" height="4" fill="#000"/>
<rect x="1226" y="369" width="3" height="2" fill="#FF0000"/>
<rect x="1235" y="362" width="1" height="42" fill="#000"/>
<rect x="1233" y="368" width="5" height="20" fill="#000"/>
<rect x="1234" y="369" width="3" height="18" fill="#006400"/>
<rect x="1243" y="368" width="1" height="44" fill="#000"/>
<rect x="1241" y="368" width="5" height="20" fill="#000"/>
<rect x="1242" y="369" width="3" height="18" fill="#FF0000"/>
<rect x="1251" y="354" width="1" height="48" fill="#000"/>
<rect x="1249" y="360" width="5" height="29" fill="#000"/>
<rect x="1250" y="361" width="3" height="27" fill="#006400"/>
<rect x="1259" y="352" width="1" height="33" fill="#000"/>
<rect x="1257" y="357" width="5" height="11" fill="#000"/>
<rect x="1258" y="358" width="3" height="9" fill="#FF0000"/>
<rect x="1267" y="358" width="1" height="10" fill="#000"/>
<rect x="1265" y="361" width="5" height="6" fill="#000"/>
<rect x="1266" y="362" width="3" height="4" fill="#006400"/>
<rect x="1275" y="365" width="1" height="70" fill="#000"/>
<rect x="1273" y="370" width="5" height="36" fill="#000"/>
<rect x="1274" y="371" width="3" height="34" fill="#006400"/>
<rect x="1283" y="353" width="1" height="26" fill="#000"/>
<rect x="1281" y="367" width="5" height="4" fill="#000"/>
<rect x="1282" y="368" width="3" height="2" fill="#006400"/>
<rect x="1291" y="355" width="1" height="21" fill="#000"/>
<rect x="1289" y="367" width="5" height="5" fill="#000"/>
<rect x="1290" y="368" width="3" height="3" fill="#FF0000"/>
<rect x="1299" y="371" width="1" height="29" fill="#000"/>
<rect x="1297" y="371" width="5" height="25" fill="#000"/>
<rect x="1298" y="372" width="3" height="23" fill="#FF0000"/>
<rect x="1307" y="380" width="1" height="31" fill="#000"/>
<rect x="1305" y="396" width="5" height="15" fill="#000"/>
<rect x="1306" y="397" width="3" height="13" fill="#FF0000"/>
<rect x="1315" y="379" width="1" height="35" fill="#000"/>
<rect x="1313" y="389" width="5" height="24" fill="#000"/>
<rect x="1314" y="390" width="3" height="22" fill="#006400"/>
<rect x="1323" y="374" width="1" height="25" fill="#000"/>
<rect x="1321" y="379" width="5" height="11" fill="#000"/>
<rect x="1322" y="380" width="3" height="9" fill="#006400"/>
<rect x="1331" y="367" width="1" height="42" fill="#000"/>
<rect x="1329" y="380" width="5" height="27" fill="#000"/>
<rect x="1330" y="381" width="3" height="25" fill="#FF0000"/>
<rect x="1339" y="398" width="1" height="28" fill="#000"/>
<rect x="1337" y="405" width="5" height="2" fill="#000"/>
<rect x="1347" y="402" width="1" height="47" fill="#000"/>
<rect x="1345" y="403" width="5" height="29" fill="#000"/>
<rect x="1346" y="404" width="3" height="27" fill="#FF0000"/>
<rect x="1355" y="395" width="1" height="66" fill="#000"/>
<rect x="1353" y="419" width="5" height="29" fill="#000"/>
<rect x="1354" y="420" width="3" height="27" fill="#006400"/>
<rect x="1363" y="409" width="1" height="28" fill="#000"/>
<rect x="1361" y="418" width="5" height="2" fill="#000"/>
<rect x="1371" y="410" width="1" height="17" fill="#000"/>
<rect x="1369" y="417" width="5" height="5" fill="#000"/>
<rect x="1370" y="418" width="3" height="3" fill="#FF0000"/>
<rect x="1379" y="418" width="1" height="43" fill="#000"/>
<rect x="1377" y="422" width="5" height="35" fill="#000"/>
<rect x="1378" y="423" width="3" height="33" fill="#FF0000"/>
<rect x="1387" y="446" width="1" height="49" fill="#000"/>
<rect x="1385" y="455" width="5" height="39" fill="#000"/>
<rect x="1386" y="456" width="3" height="37" fill="#FF0000"/>
<rect x="1395" y="472" width="1" height="37" fill="#000"/>
<rect x="1393" y="498" width="5" height="5" fill="#000"/>
<rect x="1394" y="499" width="3" height="3" fill="#FF0000"/>
<rect x="1403" y="445" width="1" height="67" fill="#000"/>
<rect x="1401" y="450" width="5" height="52" fill="#000"/>
<rect x="1402" y="451" width="3" height="50" fill="#006400"/>
<rect x="1411" y="420" width="1" height="32" fill="#000"/>
<rect x="1409" y="431" width="5" height="21" fill="#000"/>
<rect x="1410" y="432" width="3" height="19" fill="#006400"/>
<rect x="1419" y="426" width="1" height="40" fill="#000"/>
<rect x="1417" y="429" width="5" height="2" fill="#000"/>
<rect x="1427" y="426" width="1" height="11" fill="#000"/>
<rect x="1425" y="429" width="5" height="7" fill="#000"/>
<rect x="1426" y="430" width="3" height="5" fill="#FF0000"/>
<rect x="1435" y="413" width="1" height="32" fill="#000"/>
<rect x="1433" y="420" width="5" height="20" fill="#000"/>
<rect x="1434" y="421" width="3" height="18" fill="#006400"/>
<rect x="1443" y="413" width="1" height="34" fill="#000"/>
<rect x="1441" y="416" width="5" height="5" fill="#000"/>
<rect x="1442" y="417" width="3" height="3" fill="#006400"/>
<rect x="1451" y="360" width="1" height="59" fill="#000"/>
<rect x="1449" y="375" width="5" height="31" fill="#000"/>
<rect x="1450" y="376" width="3" height="29" fill="#006400"/>
<rect x="1459" y="359" width="1" height="22" fill="#000"/>
<rect x="1457" y="361" width="5" height="14" fill="#000"/>
<rect x="1458" y="362" width="3" height="12" fill="#006400"/>
<rect x="1467" y="352" width="1" height="13" fill="#000"/>
<rect x="1465" y="354" width="5" height="7" fill="#000"/>
<rect x="1466" y="355" width="3" height="5" fill="#006400"/>
<rect x="1475" y="338" width="1" height="42" fill="#000"/>
<rect x="1473" y="338" width="5" height="40" fill="#000"/>
<rect x="1474" y="339" width="3" height="38" fill="#006400"/>
<rect x="1483" y="311" width="1" height="29" fill="#000"/>
<rect x="1481" y="312" width="5" height="28" fill="#000"/>
<rect x="1482" y="313" width="3" height="26" fill="#006400"/>
<rect x="1491" y="286" width="1" height="30" fill="#000"/>
<rect x="1489" y="287" width="5" height="26" fill="#000"/>
<rect x="1490" y="288" width="3" height="24" fill="#006400"/>
<rect x="1499" y="273" width="1" height="20" fill="#000"/>
<rect x="1497" y="280" width="5" height="8" fill="#000"/>
<rect x="1498" y="281" width="3" height="6" fill="#006400"/>
<rect x="1507" y="254" width="1" height="28" fill="#000"/>
<rect x="1505" y="255" width="5" height="26" fill="#000"/>
<rect x="1506" y="256" width="3" height="24" fill="#006400"/>
<rect x="1515" y="257" width="1" height="19" fill="#000"/>
<rect x="1513" y="260" width="5" height="13" fill="#000"/>
<rect x="1514" y="261" width="3" height="11" fill="#006400"/>
<rect x="1523" y="251" width="1" height="24" fill="#000"/>
<rect x="1521" y="260" width="5" height="3" fill="#000"/>
<rect x="1522" y="261" width="3" height="1" fill="#FF0000"/>
<rect x="1531" y="235" width="1" height="27" fill="#000"/>
<rect x="1529" y="237" width="5" height="25" fill="#000"/>
<rect x="1530" y="238" width="3" height="23" fill="#006400"/>
<rect x="1539" y="234" width="1" height="32" fill="#000"/>
<rect x="1537" y="240" width="5" height="9" fill="#000"/>
<rect x="1538" y="241" width="3" height="7" fill="#FF0000"/>
<rect x="1547" y="213" width="1" height="31" fill="#000"/>
<rect x="1545" y="214" width="5" height="30" fill="#000"/>
<rect x="1546" y="215" width="3" height="28" fill="#006400"/>
<rect x="1555" y="207" width="1" height="17" fill="#000"/>
<rect x="1553" y="215" width="5" height="2" fill="#000"/>
<rect x="1563" y="209" width="1" height="34" fill="#000"/>
<rect x="1561" y="214" width="5" height="17" fill="#000"/>
<rect x="1562" y="215" width="3" height="15" fill="#FF0000"/>
<rect x="1571" y="222" width="1" height="9" fill="#000"/>
<rect x="1569" y="223" width="5" height="7" fill="#000"/>
<rect x="1570" y="224" width="3" height="5" fill="#006400"/>
</g>
<text x="1863" y="32.2" font-size="28" fill="#FF0000" text-anchor="end" letter-spacing="-0.3">R3 - 30000</text>
<text x="1863" y="110.1" font-size="28" fill="#FF0000" text-anchor="end" letter-spacing="-0.3">R2 - 28750</text>
<text x="1863" y="193.9" font-size="28" fill="#FF0000" text-anchor="end" letter-spacing="-0.3">R1 - 27500</text>
<text x="1863" y="308.7" font-size="28" fill="#006400" text-anchor="end" letter-spacing="-0.3">S1 - 26250</text>
<text x="1863" y="368.6" font-size="28" fill="#006400" text-anchor="end" letter-spacing="-0.3">S2 - 25375</text>
<text x="1863" y="460.9" font-size="28" fill="#006400" text-anchor="end" letter-spacing="-0.3">S3 - 23965</text>
<path d="M6,9 L13,9 L9.5,13 Z" fill="#000"/>
<text transform="translate(18,14) scale(0.9127,1)" font-size="10.2" fill="#000" xml:space="preserve">US100Cash,Daily  27078.75 27184.23 27057.75 27162.08</text>
<g shape-rendering="crispEdges" fill="#000">
<rect x="2" y="2" width="1864" height="1"/>
<rect x="2" y="715" width="1864" height="1"/>
<rect x="2" y="2" width="1" height="714"/>
<rect x="1865" y="2" width="1" height="714"/>
<rect x="2" y="717" width="1864" height="1"/>
<rect x="2" y="867" width="1864" height="1"/>
<rect x="2" y="717" width="1" height="151"/>
<rect x="1865" y="717" width="1" height="151"/>
</g>
<rect x="1866" y="19" width="2" height="1" fill="#000" shape-rendering="crispEdges"/>
<text transform="translate(1870.6,23) scale(0.9127,1)" font-size="10.2" fill="#000" >30267.50</text>
<rect x="1866" y="52" width="2" height="1" fill="#000" shape-rendering="crispEdges"/>
<text transform="translate(1870.6,56) scale(0.9127,1)" font-size="10.2" fill="#000" >29769.20</text>
<rect x="1866" y="85" width="2" height="1" fill="#000" shape-rendering="crispEdges"/>
<text transform="translate(1870.6,89) scale(0.9127,1)" font-size="10.2" fill="#000" >29255.80</text>
<rect x="1866" y="118" width="2" height="1" fill="#000" shape-rendering="crispEdges"/>
<text transform="translate(1870.6,122) scale(0.9127,1)" font-size="10.2" fill="#000" >28759.90</text>
<rect x="1866" y="151" width="2" height="1" fill="#000" shape-rendering="crispEdges"/>
<text transform="translate(1870.6,155) scale(0.9127,1)" font-size="10.2" fill="#000" >28259.20</text>
<rect x="1866" y="184" width="2" height="1" fill="#000" shape-rendering="crispEdges"/>
<text transform="translate(1870.6,188) scale(0.9127,1)" font-size="10.2" fill="#000" >27760.90</text>
<rect x="1866" y="217" width="2" height="1" fill="#000" shape-rendering="crispEdges"/>
<text transform="translate(1870.6,221) scale(0.9127,1)" font-size="10.2" fill="#000" >27263.60</text>
<rect x="1866" y="250" width="2" height="1" fill="#000" shape-rendering="crispEdges"/>
<text transform="translate(1870.6,254) scale(0.9127,1)" font-size="10.2" fill="#000" >26749.20</text>
<rect x="1866" y="283" width="2" height="1" fill="#000" shape-rendering="crispEdges"/>
<text transform="translate(1870.6,287) scale(0.9127,1)" font-size="10.2" fill="#000" >26250.90</text>
<rect x="1866" y="316" width="2" height="1" fill="#000" shape-rendering="crispEdges"/>
<text transform="translate(1870.6,320) scale(0.9127,1)" font-size="10.2" fill="#000" >25752.60</text>
<rect x="1866" y="349" width="2" height="1" fill="#000" shape-rendering="crispEdges"/>
<text transform="translate(1870.6,353) scale(0.9127,1)" font-size="10.2" fill="#000" >25254.30</text>
<rect x="1866" y="382" width="2" height="1" fill="#000" shape-rendering="crispEdges"/>
<text transform="translate(1870.6,386) scale(0.9127,1)" font-size="10.2" fill="#000" >24756.00</text>
<rect x="1866" y="415" width="2" height="1" fill="#000" shape-rendering="crispEdges"/>
<text transform="translate(1870.6,419) scale(0.9127,1)" font-size="10.2" fill="#000" >24242.60</text>
<rect x="1866" y="448" width="2" height="1" fill="#000" shape-rendering="crispEdges"/>
<text transform="translate(1870.6,452) scale(0.9127,1)" font-size="10.2" fill="#000" >23744.30</text>
<rect x="1866" y="481" width="2" height="1" fill="#000" shape-rendering="crispEdges"/>
<text transform="translate(1870.6,485) scale(0.9127,1)" font-size="10.2" fill="#000" >23246.00</text>
<rect x="1866" y="514" width="2" height="1" fill="#000" shape-rendering="crispEdges"/>
<text transform="translate(1870.6,518) scale(0.9127,1)" font-size="10.2" fill="#000" >22747.70</text>
<rect x="1866" y="547" width="2" height="1" fill="#000" shape-rendering="crispEdges"/>
<text transform="translate(1870.6,551) scale(0.9127,1)" font-size="10.2" fill="#000" >22249.40</text>
<rect x="1866" y="580" width="2" height="1" fill="#000" shape-rendering="crispEdges"/>
<text transform="translate(1870.6,584) scale(0.9127,1)" font-size="10.2" fill="#000" >21736.00</text>
<rect x="1866" y="613" width="2" height="1" fill="#000" shape-rendering="crispEdges"/>
<text transform="translate(1870.6,617) scale(0.9127,1)" font-size="10.2" fill="#000" >21237.70</text>
<rect x="1866" y="646" width="2" height="1" fill="#000" shape-rendering="crispEdges"/>
<text transform="translate(1870.6,650) scale(0.9127,1)" font-size="10.2" fill="#000" >20739.40</text>
<rect x="1866" y="679" width="2" height="1" fill="#000" shape-rendering="crispEdges"/>
<text transform="translate(1870.6,683) scale(0.9127,1)" font-size="10.2" fill="#000" >20241.10</text>
<rect x="1866" y="712" width="2" height="1" fill="#000" shape-rendering="crispEdges"/>
<text transform="translate(1870.6,716) scale(0.9127,1)" font-size="10.2" fill="#000" >19742.80</text>
<rect x="1867" y="30" width="46" height="11" fill="#FF0000" shape-rendering="crispEdges"/>
<text transform="translate(1870.6,39) scale(0.9127,1)" font-size="10.2" fill="#fff" >30000.00</text>
<rect x="1867" y="113" width="46" height="11" fill="#FF0000" shape-rendering="crispEdges"/>
<text transform="translate(1870.6,122) scale(0.9127,1)" font-size="10.2" fill="#fff" >28750.00</text>
<rect x="1867" y="195" width="46" height="11" fill="#FF0000" shape-rendering="crispEdges"/>
<text transform="translate(1870.6,204) scale(0.9127,1)" font-size="10.2" fill="#fff" >27500.00</text>
<rect x="1867" y="277" width="46" height="11" fill="#006400" shape-rendering="crispEdges"/>
<text transform="translate(1870.6,286) scale(0.9127,1)" font-size="10.2" fill="#fff" >26250.00</text>
<rect x="1867" y="335" width="46" height="11" fill="#006400" shape-rendering="crispEdges"/>
<text transform="translate(1870.6,344) scale(0.9127,1)" font-size="10.2" fill="#fff" >25375.00</text>
<rect x="1867" y="428" width="46" height="11" fill="#006400" shape-rendering="crispEdges"/>
<text transform="translate(1870.6,437) scale(0.9127,1)" font-size="10.2" fill="#fff" >23965.00</text>
<rect x="1867" y="514" width="46" height="11" fill="#006400" shape-rendering="crispEdges"/>
<text transform="translate(1870.6,523) scale(0.9127,1)" font-size="10.2" fill="#fff" >22650.00</text>
<rect x="1867" y="595" width="46" height="11" fill="#006400" shape-rendering="crispEdges"/>
<text transform="translate(1870.6,604) scale(0.9127,1)" font-size="10.2" fill="#fff" >21420.00</text>
<rect x="1867" y="218" width="46" height="11" fill="#000" shape-rendering="crispEdges"/>
<text transform="translate(1870.6,227) scale(0.9127,1)" font-size="10.2" fill="#fff" >27162.08</text>
<line x1="4" y1="763.5" x2="1865" y2="763.5" stroke="#C0C0C0" stroke-width="1" stroke-dasharray="3 3" shape-rendering="crispEdges"/>
<line x1="4" y1="792.5" x2="1865" y2="792.5" stroke="#C0C0C0" stroke-width="1" stroke-dasharray="3 3" shape-rendering="crispEdges"/>
<line x1="4" y1="822.5" x2="1865" y2="822.5" stroke="#C0C0C0" stroke-width="1" stroke-dasharray="3 3" shape-rendering="crispEdges"/>
<g clip-path="url(#cr)">
<polyline points="3.5,762.5 11.5,760.5 19.5,764.0 27.5,758.8 35.5,777.5 43.5,796.4 51.5,781.3 59.5,790.1 67.5,781.3 75.5,778.6 83.5,773.4 91.5,778.2 99.5,771.3 107.5,771.3 115.5,773.0 123.5,776.1 131.5,776.5 139.5,788.4 147.5,792.6 155.5,796.8 163.5,785.3 171.5,788.4 179.5,785.3 187.5,787.4 195.5,780.3 203.5,791.1 211.5,789.5 219.5,794.3 227.5,791.1 235.5,783.4 243.5,784.3 251.5,780.7 259.5,777.6 267.5,778.2 275.5,774.0 283.5,770.7 291.5,765.7 299.5,765.5 307.5,767.1 315.5,760.9 323.5,757.3 331.5,754.6 339.5,764.6 347.5,769.2 355.5,775.5 363.5,772.8 371.5,769.9 379.5,768.2 387.5,763.6 395.5,760.4 403.5,767.8 411.5,762.3 419.5,769.2 427.5,761.5 435.5,765.1 443.5,805.3 451.5,786.3 459.5,789.5 467.5,785.3 475.5,789.1 483.5,784.9 491.5,778.6 499.5,779.7 507.5,785.9 515.5,780.7 523.5,775.9 531.5,767.6 539.5,765.5 547.5,764.4 555.5,766.1 563.5,772.4 571.5,769.2 579.5,785.9 587.5,782.4 595.5,792.8 603.5,794.3 611.5,783.4 619.5,784.9 627.5,785.9 635.5,799.5 643.5,797.4 651.5,801.6 659.5,810.4 667.5,799.5 675.5,813.1 683.5,807.2 691.5,794.7 699.5,792.2 707.5,788.6 715.5,788.4 723.5,784.9 731.5,786.3 739.5,782.4 747.5,782.4 755.5,782.4 763.5,780.3 771.5,780.3 779.5,781.3 787.5,778.6 795.5,777.2 803.5,796.8 811.5,799.1 819.5,800.5 827.5,807.8 835.5,800.1 843.5,790.1 851.5,787.0 859.5,783.8 867.5,782.4 875.5,783.4 883.5,786.3 891.5,789.1 899.5,791.8 907.5,796.8 915.5,791.1 923.5,783.4 931.5,783.4 939.5,788.0 947.5,781.3 955.5,780.1 963.5,782.4 971.5,793.2 979.5,790.1 987.5,790.5 995.5,801.2 1003.5,807.8 1011.5,794.7 1019.5,791.1 1027.5,789.1 1035.5,783.8 1043.5,776.5 1051.5,772.4 1059.5,782.4 1067.5,794.3 1075.5,787.6 1083.5,798.9 1091.5,806.4 1099.5,818.3 1107.5,800.1 1115.5,795.3 1123.5,796.8 1131.5,796.4 1139.5,805.1 1147.5,806.4 1155.5,806.4 1163.5,806.4 1171.5,800.4 1179.5,803.5 1187.5,796.6 1195.5,803.1 1203.5,795.9 1211.5,785.4 1219.5,794.8 1227.5,797.0 1235.5,795.9 1243.5,802.0 1251.5,791.1 1259.5,794.4 1267.5,792.2 1275.5,796.6 1283.5,794.1 1291.5,795.9 1299.5,804.7 1307.5,810.1 1315.5,799.6 1323.5,796.6 1331.5,805.1 1339.5,804.2 1347.5,811.9 1355.5,807.3 1363.5,807.3 1371.5,807.3 1379.5,817.8 1387.5,825.9 1395.5,828.3 1403.5,804.7 1411.5,799.2 1419.5,798.1 1427.5,800.3 1435.5,794.8 1443.5,792.6 1451.5,780.1 1459.5,776.8 1467.5,774.6 1475.5,770.7 1483.5,764.8 1491.5,760.4 1499.5,759.1 1507.5,755.3 1515.5,757.1 1523.5,759.1 1531.5,754.7 1539.5,759.1 1547.5,754.2 1555.5,754.2 1563.5,761.9 1571.5,760.2" fill="none" stroke="#000" stroke-width="1" shape-rendering="crispEdges"/>
</g>
<text transform="translate(7,730) scale(0.9127,1)" font-size="10.2" fill="#000" >RSI(14) 71.6813</text>
<rect x="1866" y="719" width="1" height="1" fill="#000" shape-rendering="crispEdges"/>
<text transform="translate(1868.5,728) scale(0.9127,1)" font-size="10.2" fill="#000" >100</text>
<rect x="1866" y="763" width="1" height="1" fill="#000" shape-rendering="crispEdges"/>
<text transform="translate(1868.5,767) scale(0.9127,1)" font-size="10.2" fill="#000" >70</text>
<rect x="1866" y="792" width="1" height="1" fill="#000" shape-rendering="crispEdges"/>
<text transform="translate(1868.5,796) scale(0.9127,1)" font-size="10.2" fill="#000" >50</text>
<rect x="1866" y="822" width="1" height="1" fill="#000" shape-rendering="crispEdges"/>
<text transform="translate(1868.5,826) scale(0.9127,1)" font-size="10.2" fill="#000" >30</text>
<rect x="1866" y="866" width="1" height="1" fill="#000" shape-rendering="crispEdges"/>
<text transform="translate(1868.5,864) scale(0.9127,1)" font-size="10.2" fill="#000" >0</text>
<rect x="3" y="868" width="1" height="3" fill="#000" shape-rendering="crispEdges"/>
<text transform="translate(1.7,880) scale(0.9127,1)" font-size="10.2" fill="#000" >25 Jul 2025</text>
<rect x="67" y="868" width="1" height="3" fill="#000" shape-rendering="crispEdges"/>
<text transform="translate(65.7,880) scale(0.9127,1)" font-size="10.2" fill="#000" >6 Aug 2025</text>
<rect x="131" y="868" width="1" height="3" fill="#000" shape-rendering="crispEdges"/>
<text transform="translate(129.7,880) scale(0.9127,1)" font-size="10.2" fill="#000" >18 Aug 2025</text>
<rect x="195" y="868" width="1" height="3" fill="#000" shape-rendering="crispEdges"/>
<text transform="translate(193.7,880) scale(0.9127,1)" font-size="10.2" fill="#000" >28 Aug 2025</text>
<rect x="259" y="868" width="1" height="3" fill="#000" shape-rendering="crispEdges"/>
<text transform="translate(257.7,880) scale(0.9127,1)" font-size="10.2" fill="#000" >9 Sep 2025</text>
<rect x="323" y="868" width="1" height="3" fill="#000" shape-rendering="crispEdges"/>
<text transform="translate(321.7,880) scale(0.9127,1)" font-size="10.2" fill="#000" >19 Sep 2025</text>
<rect x="387" y="868" width="1" height="3" fill="#000" shape-rendering="crispEdges"/>
<text transform="translate(385.7,880) scale(0.9127,1)" font-size="10.2" fill="#000" >1 Oct 2025</text>
<rect x="451" y="868" width="1" height="3" fill="#000" shape-rendering="crispEdges"/>
<text transform="translate(449.7,880) scale(0.9127,1)" font-size="10.2" fill="#000" >13 Oct 2025</text>
<rect x="515" y="868" width="1" height="3" fill="#000" shape-rendering="crispEdges"/>
<text transform="translate(513.7,880) scale(0.9127,1)" font-size="10.2" fill="#000" >23 Oct 2025</text>
<rect x="579" y="868" width="1" height="3" fill="#000" shape-rendering="crispEdges"/>
<text transform="translate(577.7,880) scale(0.9127,1)" font-size="10.2" fill="#000" >4 Nov 2025</text>
<rect x="643" y="868" width="1" height="3" fill="#000" shape-rendering="crispEdges"/>
<text transform="translate(641.7,880) scale(0.9127,1)" font-size="10.2" fill="#000" >14 Nov 2025</text>
<rect x="707" y="868" width="1" height="3" fill="#000" shape-rendering="crispEdges"/>
<text transform="translate(705.7,880) scale(0.9127,1)" font-size="10.2" fill="#000" >26 Nov 2025</text>
<rect x="771" y="868" width="1" height="3" fill="#000" shape-rendering="crispEdges"/>
<text transform="translate(769.7,880) scale(0.9127,1)" font-size="10.2" fill="#000" >8 Dec 2025</text>
<rect x="835" y="868" width="1" height="3" fill="#000" shape-rendering="crispEdges"/>
<text transform="translate(833.7,880) scale(0.9127,1)" font-size="10.2" fill="#000" >18 Dec 2025</text>
<rect x="899" y="868" width="1" height="3" fill="#000" shape-rendering="crispEdges"/>
<text transform="translate(897.7,880) scale(0.9127,1)" font-size="10.2" fill="#000" >31 Dec 2025</text>
<rect x="963" y="868" width="1" height="3" fill="#000" shape-rendering="crispEdges"/>
<text transform="translate(961.7,880) scale(0.9127,1)" font-size="10.2" fill="#000" >13 Jan 2026</text>
<rect x="1027" y="868" width="1" height="3" fill="#000" shape-rendering="crispEdges"/>
<text transform="translate(1025.7,880) scale(0.9127,1)" font-size="10.2" fill="#000" >23 Jan 2026</text>
<rect x="1091" y="868" width="1" height="3" fill="#000" shape-rendering="crispEdges"/>
<text transform="translate(1089.7,880) scale(0.9127,1)" font-size="10.2" fill="#000" >4 Feb 2026</text>
<rect x="1155" y="868" width="1" height="3" fill="#000" shape-rendering="crispEdges"/>
<text transform="translate(1153.7,880) scale(0.9127,1)" font-size="10.2" fill="#000" >16 Feb 2026</text>
<rect x="1219" y="868" width="1" height="3" fill="#000" shape-rendering="crispEdges"/>
<text transform="translate(1217.7,880) scale(0.9127,1)" font-size="10.2" fill="#000" >26 Feb 2026</text>
<rect x="1283" y="868" width="1" height="3" fill="#000" shape-rendering="crispEdges"/>
<text transform="translate(1281.7,880) scale(0.9127,1)" font-size="10.2" fill="#000" >10 Mar 2026</text>
<rect x="1347" y="868" width="1" height="3" fill="#000" shape-rendering="crispEdges"/>
<text transform="translate(1345.7,880) scale(0.9127,1)" font-size="10.2" fill="#000" >20 Mar 2026</text>
<rect x="1411" y="868" width="1" height="3" fill="#000" shape-rendering="crispEdges"/>
<text transform="translate(1409.7,880) scale(0.9127,1)" font-size="10.2" fill="#000" >1 Apr 2026</text>
<rect x="1475" y="868" width="1" height="3" fill="#000" shape-rendering="crispEdges"/>
<text transform="translate(1473.7,880) scale(0.9127,1)" font-size="10.2" fill="#000" >13 Apr 2026</text>
<rect x="1539" y="868" width="1" height="3" fill="#000" shape-rendering="crispEdges"/>
<text transform="translate(1537.7,880) scale(0.9127,1)" font-size="10.2" fill="#000" >23 Apr 2026</text>
</svg></body></html>
